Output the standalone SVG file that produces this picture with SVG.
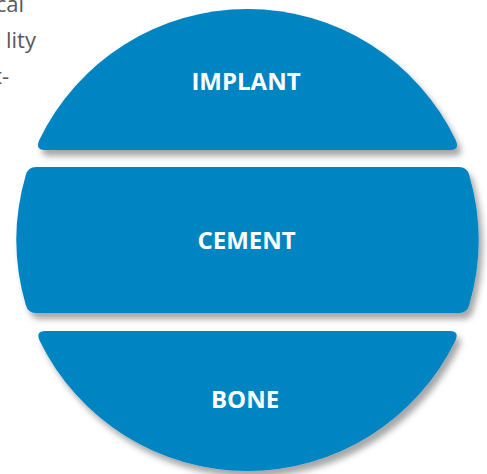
<svg xmlns="http://www.w3.org/2000/svg" width="487" height="474" viewBox="0 0 487 474">
  <defs>
    <filter id="shadow" x="-10%" y="-10%" width="125%" height="130%">
      <feDropShadow dx="4" dy="6" stdDeviation="3" flood-color="#000000" flood-opacity="0.35"/>
    </filter>
    <style>
      .band { fill: #0384c2; filter: url(#shadow); }
      .label { font-family: "Open Sans", "Liberation Sans", sans-serif; font-weight: bold; font-size: 24px; fill: #ffffff; text-anchor: middle; }
      .para { font-family: "Open Sans", "Liberation Sans", sans-serif; font-size: 22px; fill: #595959; text-anchor: end; }
    </style>
  </defs>
  <rect width="487" height="474" fill="#ffffff"/>
  <g id="paragraph">
    <text class="para" x="24" y="12">cal</text>
    <text class="para" x="36" y="48">lity</text>
    <text class="para" x="9" y="84">t-</text>
  </g>
  <g id="implant">
    <path class="band" d="M 39.3 140 A 231 231 0 0 1 455.7 140 Q 460.2 150 450 150 L 45 150 Q 34.8 150 39.3 140 Z"/>
    <text class="label" x="246" y="90">IMPLANT</text>
  </g>
  <g id="cement">
    <path class="band" d="M 36 167 L 459 167 Q 467 167 469.2 175 A 231 231 0 0 1 469.2 305 Q 467 313 459 313 L 36 313 Q 28 313 25.8 305 A 231 231 0 0 1 25.8 175 Q 28 167 36 167 Z"/>
    <text class="label" x="246.5" y="249">CEMENT</text>
  </g>
  <g id="bone">
    <path class="band" d="M 45 331 L 450 331 Q 459.8 331 455.2 341 A 231 231 0 0 1 39.8 341 Q 35.2 331 45 331 Z"/>
    <text class="label" x="245" y="408">BONE</text>
  </g>
  <g id="connectors"/>
</svg>
